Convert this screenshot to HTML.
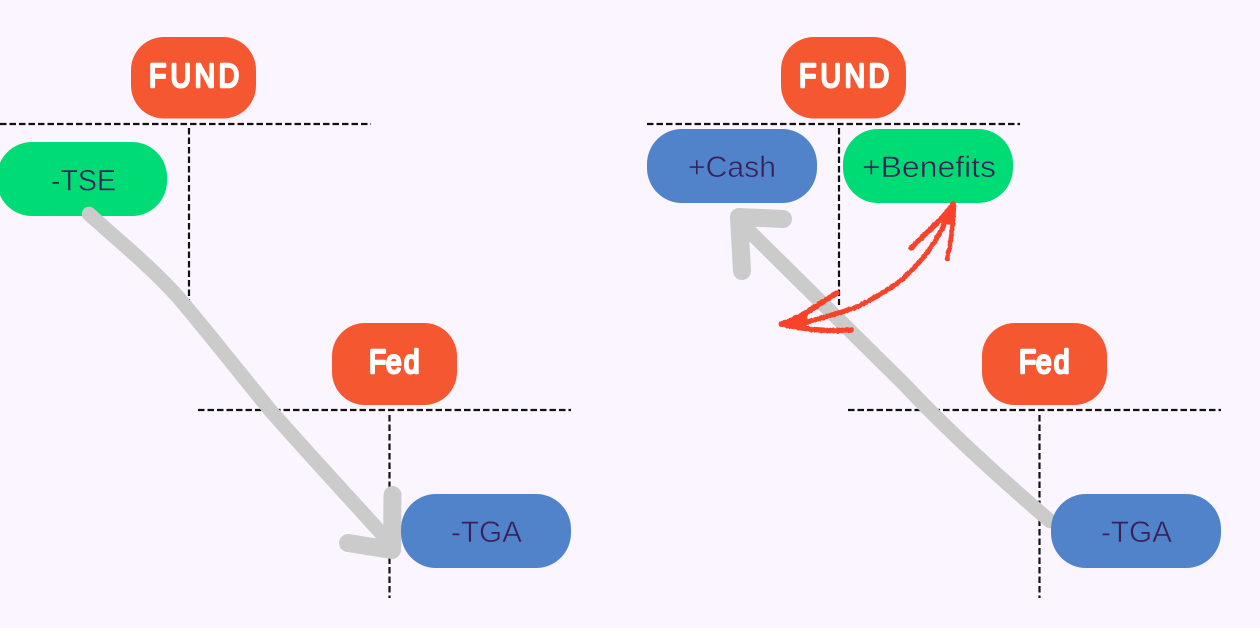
<!DOCTYPE html>
<html>
<head>
<meta charset="utf-8">
<style>
html,body{margin:0;padding:0;width:1260px;height:628px;overflow:hidden;background:#fbf5ff}
svg{display:block}
.t{font-family:"Liberation Sans",sans-serif;font-size:30px;fill:#3a2056;stroke-width:.55px}
.h{font-family:"Liberation Sans",sans-serif;fill:#fff;stroke:#fff;stroke-width:2.600px;stroke-linejoin:round;stroke-linecap:round}
.d{stroke:#111;stroke-width:2.200;stroke-dasharray:6.500 3;fill:none}
.g{stroke:#cbcbcb;stroke-width:14.500;fill:none;stroke-linecap:round;stroke-linejoin:round}
.gh{stroke:#cbcbcb;stroke-width:18;fill:none;stroke-linecap:round;stroke-linejoin:round}
.r{stroke:#f9432a;fill:none;stroke-linecap:round;stroke-linejoin:round}
</style>
</head>
<body>
<svg width="1260" height="628" viewBox="0 0 1260 628" xmlns="http://www.w3.org/2000/svg">
<defs>
<filter id="rough" x="-10%" y="-10%" width="120%" height="120%">
<feTurbulence type="fractalNoise" baseFrequency="0.35" numOctaves="2" seed="4"/>
<feDisplacementMap in="SourceGraphic" scale="2.500" xChannelSelector="R" yChannelSelector="G"/>
</filter>
</defs>
<rect width="1260" height="628" fill="#fbf5ff"/>

<!-- dashed T accounts -->
<path class="d" d="M0 124H371"/>
<path class="d" d="M189 128V305"/>
<path class="d" d="M198 410H571"/>
<path class="d" d="M389.500 415V598"/>
<path class="d" d="M647 124H1020"/>
<path class="d" d="M839 128V305"/>
<path class="d" d="M848 410H1221"/>
<path class="d" d="M1039.500 415V598"/>

<!-- header pills -->
<rect x="131" y="37" width="125" height="81.500" rx="33" fill="#f55730"/>
<rect x="332" y="323" width="125" height="82" rx="33" fill="#f55730"/>
<rect x="781" y="37" width="125" height="81.500" rx="33" fill="#f55730"/>
<rect x="982" y="323" width="125" height="82" rx="33" fill="#f55730"/>
<text class="h" transform="translate(149,87) scale(.86,1)" font-size="33" x="0 25 53 81" y="0">FUND</text>
<text class="h" transform="translate(799,87) scale(.86,1)" font-size="33" x="0 25 53 81" y="0">FUND</text>
<text class="h" transform="translate(369,373) scale(.85,1)" font-size="33" x="0 20 41" y="0">Fed</text>
<text class="h" transform="translate(1019,373) scale(.85,1)" font-size="33" x="0 20 41" y="0">Fed</text>

<!-- account pills under the grey arrows -->
<rect x="-3" y="142" width="170" height="74" rx="35" fill="#00dc75"/>

<!-- grey arrows -->
<path class="g" d="M1050 521C1000 478 950 433 905 385C850 330 795 277 742 224"/>
<path class="gh" d="M742 271L739 217L783 219"/>
<path class="g" d="M89 214C120 242 150 266 178 297C210 335 240 373 270 410C305 450 335 482 392 545"/>
<path class="gh" d="M392.500 495L392 550L348 543"/>

<!-- account pills over the grey arrows -->
<rect x="401" y="494" width="170" height="74" rx="35" fill="#5183cb"/>
<rect x="1051" y="494" width="170" height="74" rx="35" fill="#5183cb"/>
<rect x="647" y="129" width="170" height="74" rx="35" fill="#5183cb"/>
<rect x="843" y="129" width="170" height="74" rx="35" fill="#00dc75"/>

<text class="t" stroke="#00dc75" x="51" y="190.500" textLength="65" lengthAdjust="spacingAndGlyphs">-TSE</text>
<text class="t" stroke="#5183cb" x="451" y="542" textLength="71" lengthAdjust="spacingAndGlyphs">-TGA</text>
<text class="t" stroke="#5183cb" x="1101" y="542" textLength="71" lengthAdjust="spacingAndGlyphs">-TGA</text>
<text class="t" stroke="#5183cb" x="688" y="177" textLength="88" lengthAdjust="spacingAndGlyphs">+Cash</text>
<text class="t" stroke="#00dc75" x="862" y="177" textLength="134" lengthAdjust="spacingAndGlyphs">+Benefits</text>

<!-- red sketch arrow -->
<g filter="url(#rough)">
<path class="r" stroke-width="5" d="M953 206Q942 232 927 253Q912 272 895 285Q875 298 857 307Q830 316 807 322L792 324"/>
<path class="r" stroke-width="5.500" d="M953 204C942 220 925 234 911 248"/>
<path class="r" stroke-width="4.500" d="M954 206C953 225 951 243 947 259"/>
<path class="r" stroke-width="5.500" d="M781 324C800 319 820 303 837 293"/>
<path class="r" stroke-width="5.500" d="M781 324C803 329 825 332 851 330"/>
<path d="M779 324L808 314L806 329Z" fill="#f9432a"/>
<path d="M953 203L941 223L956 226Z" fill="#f9432a"/>
</g>
</svg>
</body>
</html>
